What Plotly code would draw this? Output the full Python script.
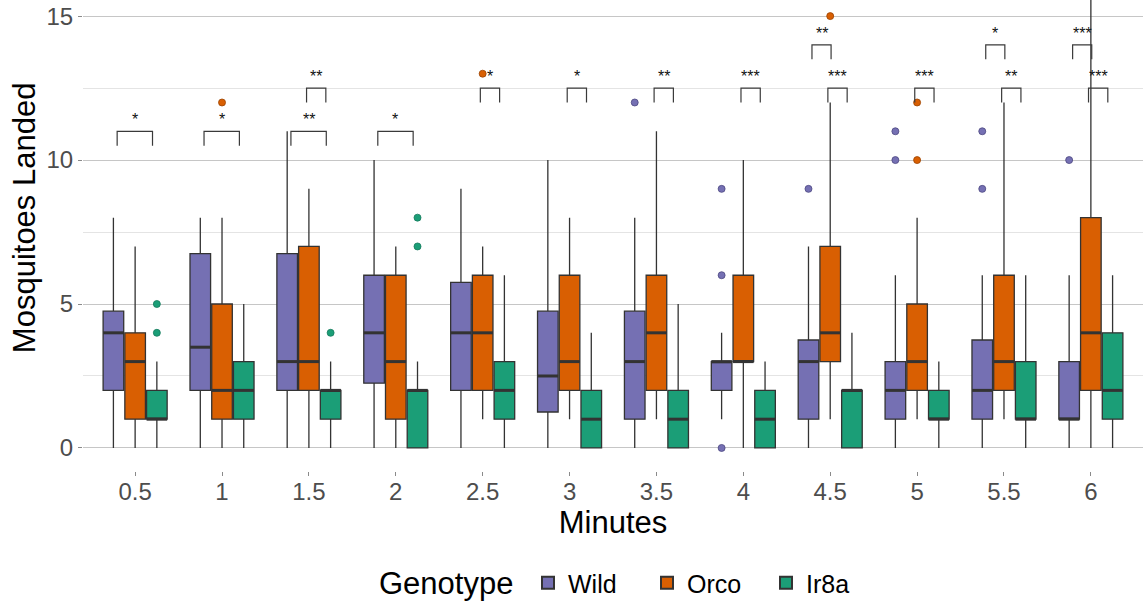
import plotly.graph_objects as go

# Sampling times (minutes) shown on the x axis
minutes = ["0.5", "1", "1.5", "2", "2.5", "3", "3.5", "4", "4.5", "5", "5.5", "6"]
genotypes = ["Wild", "Orco", "Ir8a"]

# Box statistics per genotype: lower whisker, Q1, median, Q3, upper whisker, outliers
wild_low = [0, 0, 0, 0, 0, 0, 0, 1, 0, 0, 0, 0]
wild_q1 = [2, 2, 2, 2.25, 2, 1.25, 1, 2, 1, 1, 1, 1]
wild_med = [4, 3.5, 3, 4, 4, 2.5, 3, 3, 3, 2, 2, 1]
wild_q3 = [4.75, 6.75, 6.75, 6, 5.75, 4.75, 4.75, 3, 3.75, 3, 3.75, 3]
wild_high = [8, 8, 11, 10, 9, 10, 8, 4, 7, 6, 6, 6]
wild_out = [[], [], [], [], [], [], [12], [0, 6, 9], [9], [10, 11], [9, 11], [10]]

orco_low = [0, 0, 0, 0, 1, 1, 1, 0, 1, 1, 1, 0]
orco_q1 = [1, 1, 2, 1, 2, 2, 2, 3, 3, 2, 2, 2]
orco_med = [3, 2, 3, 3, 4, 3, 4, 3, 4, 3, 3, 4]
orco_q3 = [4, 5, 7, 6, 6, 6, 6, 6, 7, 5, 6, 8]
orco_high = [7, 8, 9, 7, 7, 8, 11, 10, 12, 8, 12, 16]
orco_out = [[], [12], [], [], [13], [], [], [], [15], [10, 12], [], []]

ir8a_low = [0, 0, 0, 0, 0, 0, 0, 0, 0, 0, 0, 0]
ir8a_q1 = [1, 1, 1, 0, 1, 0, 0, 0, 0, 1, 1, 1]
ir8a_med = [1, 2, 2, 2, 2, 1, 1, 1, 2, 1, 1, 2]
ir8a_q3 = [2, 3, 2, 2, 3, 2, 2, 2, 2, 2, 3, 4]
ir8a_high = [3, 5, 3, 3, 6, 4, 5, 3, 4, 3, 6, 6]
ir8a_out = [[4, 5], [], [4], [7, 8], [], [], [], [], [], [], [], []]

# Significance markers: time index, bracket tier, label
sig_index = [0, 1, 2, 2, 3, 4, 5, 6, 7, 8, 8, 9, 10, 10, 11, 11]
sig_tier = ["low", "low", "low", "mid", "low", "mid", "mid", "mid", "mid",
            "top", "mid", "mid", "top", "mid", "top", "mid"]
sig_label = ["*", "*", "**", "**", "*", "*", "*", "**", "***",
             "**", "***", "***", "*", "**", "***", "***"]

# Bracket geometry per tier: (x start, x end relative to time, bar height)
tiers = {"low": (-0.207, 0.200, 11.0), "mid": (-0.027, 0.195, 12.5), "top": (-0.21, 0.01, 14.0)}
leg_drop = 0.5
star_gap = 0.5

colors = {"Wild": "#7570B3", "Orco": "#D95F02", "Ir8a": "#1B9E77"}
edge = {"Wild": "#4B4680", "Orco": "#9A4300", "Ir8a": "#157A5C"}
offsets = {"Wild": -0.25, "Orco": 0.0, "Ir8a": 0.25}
box_w = 0.237
outline = "#333333"
font_family = "Liberation Sans, Arial, sans-serif"

stats = {
    "Wild": (wild_low, wild_q1, wild_med, wild_q3, wild_high, wild_out),
    "Orco": (orco_low, orco_q1, orco_med, orco_q3, orco_high, orco_out),
    "Ir8a": (ir8a_low, ir8a_q1, ir8a_med, ir8a_q3, ir8a_high, ir8a_out),
}

fig = go.Figure()
idx = list(range(len(minutes)))

for g in genotypes:
    low, q1, med, q3, high, out = stats[g]
    xs = [i + offsets[g] for i in idx]
    fig.add_trace(go.Box(
        x=xs, q1=q1, median=med, q3=q3, lowerfence=low, upperfence=high,
        width=box_w, name=g, legendgroup=g,
        fillcolor=colors[g], line=dict(color=outline, width=1.3),
        whiskerwidth=0, boxpoints=False, hoverinfo="skip",
    ))
    # thicker median bars
    mx, my = [], []
    for x, m in zip(xs, med):
        mx += [x - box_w / 2, x + box_w / 2, None]
        my += [m, m, None]
    fig.add_trace(go.Scatter(
        x=mx, y=my, mode="lines", line=dict(color=outline, width=3),
        showlegend=False, legendgroup=g, hoverinfo="skip",
    ))
    # outlying observations
    ox, oy = [], []
    for x, vals in zip(xs, out):
        for v in vals:
            ox.append(x)
            oy.append(v)
    fig.add_trace(go.Scatter(
        x=ox, y=oy, mode="markers",
        marker=dict(color=colors[g], size=7, line=dict(color=edge[g], width=0.8)),
        showlegend=False, legendgroup=g, hoverinfo="skip",
    ))

# significance brackets
bx, by = [], []
for i, t in zip(sig_index, sig_tier):
    x0, x1, h = tiers[t]
    bx += [i + x0, i + x0, i + x1, i + x1, None]
    by += [h - leg_drop, h, h, h - leg_drop, None]
fig.add_trace(go.Scatter(
    x=bx, y=by, mode="lines", line=dict(color="#3a3a3a", width=1.2),
    showlegend=False, hoverinfo="skip",
))
for i, t, lab in zip(sig_index, sig_tier, sig_label):
    x0, x1, h = tiers[t]
    fig.add_annotation(
        x=i + (x0 + x1) / 2, y=h + star_gap, text=lab, showarrow=False,
        xanchor="center", yanchor="middle", yshift=-3,
        font=dict(family=font_family, size=16, color="#111111"),
    )

panel_h = 471
plot_w = 1143 - 83

# y-axis title placed at the centre of the full (partly clipped) panel
fig.add_annotation(
    x=-0.0555, xref="paper", xanchor="center",
    y=(panel_h - 218) / panel_h, yref="paper", yanchor="middle",
    text="Mosquitoes Landed", textangle=-90, showarrow=False,
    font=dict(family=font_family, size=31, color="#000000"),
)
# legend heading, set beside the legend entries
legend_y = -(583 - panel_h) / panel_h
fig.add_annotation(
    x=(515 - 83) / plot_w, xref="paper", xanchor="right",
    y=legend_y, yref="paper", yanchor="middle",
    text="Genotype", showarrow=False,
    font=dict(family=font_family, size=31, color="#000000"),
)

fig.update_layout(
    width=1143, height=602,
    margin=dict(l=83, r=0, t=0, b=602 - panel_h, autoexpand=False),
    plot_bgcolor="white", paper_bgcolor="white",
    font=dict(family=font_family, color="#4D4D4D"),
    boxmode="overlay",
    showlegend=True,
    legend=dict(
        orientation="h", x=(528 - 83) / plot_w, xanchor="left",
        y=legend_y, yanchor="middle",
        font=dict(family=font_family, size=25, color="#000000"),
        entrywidth=74, entrywidthmode="pixels",
        itemsizing="constant",
    ),
)
fig.update_xaxes(
    range=[-0.6, 11.6], tickvals=idx, ticktext=minutes,
    showgrid=False, zeroline=False, showline=False,
    ticks="outside", ticklen=4, tickcolor="#8a8a8a",
    ticklabelstandoff=-5,
    tickfont=dict(family=font_family, size=24, color="#4D4D4D"),
    title=dict(text="Minutes", standoff=4,
               font=dict(family=font_family, size=31, color="#000000")),
)
fig.update_yaxes(
    range=[-0.8, 15.56], tickvals=[0, 5, 10, 15],
    showgrid=True, gridcolor="#C6C6C6", gridwidth=1.2,
    zeroline=False, showline=False,
    ticks="outside", ticklen=4, tickcolor="#8a8a8a",
    tickfont=dict(family=font_family, size=24, color="#4D4D4D"),
    minor=dict(tickvals=[2.5, 7.5, 12.5], showgrid=True, gridcolor="#E4E4E4", ticks=""),
)

fig.write_html("out.html")
